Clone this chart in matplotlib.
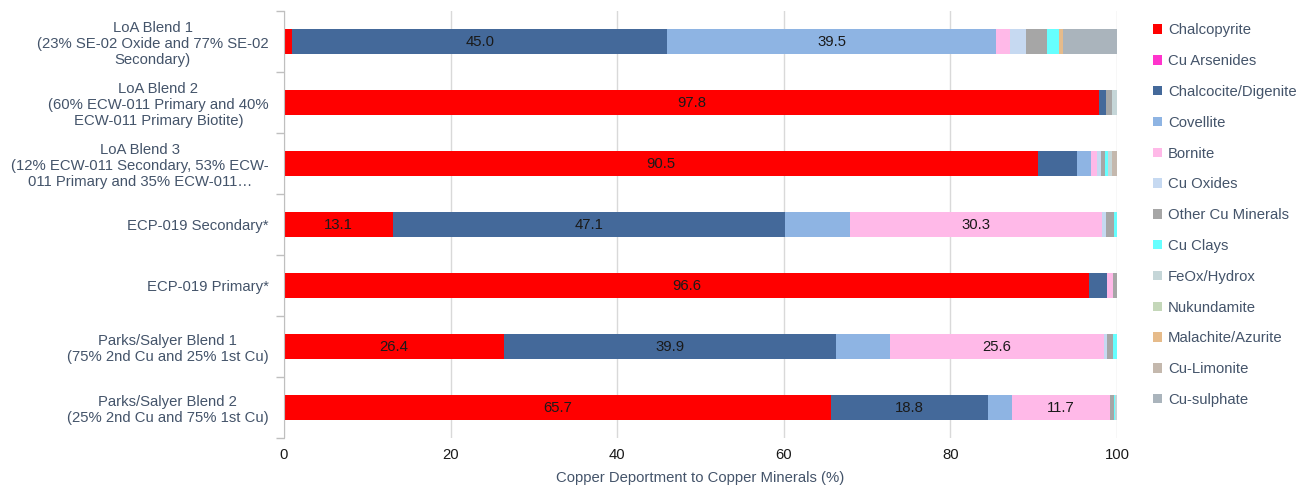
import matplotlib
matplotlib.use("Agg")
import matplotlib.pyplot as plt
import numpy as np

plt.rcParams['font.family'] = ['Liberation Sans', 'DejaVu Sans']

categories = [
    "LoA Blend 1\n(23% SE-02 Oxide and 77% SE-02\nSecondary)",
    "LoA Blend 2\n(60% ECW-011 Primary and 40%\nECW-011 Primary Biotite)",
    "LoA Blend 3\n(12% ECW-011 Secondary, 53% ECW-\n011 Primary and 35% ECW-011\u2026",
    "ECP-019 Secondary*",
    "ECP-019 Primary*",
    "Parks/Salyer Blend 1\n(75% 2nd Cu and 25% 1st Cu)",
    "Parks/Salyer Blend 2\n(25% 2nd Cu and 75% 1st Cu)",
]

minerals = ["Chalcopyrite", "Cu Arsenides", "Chalcocite/Digenite", "Covellite",
            "Bornite", "Cu Oxides", "Other Cu Minerals", "Cu Clays",
            "FeOx/Hydrox", "Nukundamite", "Malachite/Azurite", "Cu-Limonite",
            "Cu-sulphate"]

colors = ["#ff0000", "#ff33cc", "#44699a", "#8eb4e3", "#ffb9e8", "#c6d9f1",
          "#a6a6a6", "#66ffff", "#c5d6d8", "#c4d7b9", "#e6bb8a", "#c4b8ad",
          "#aab4bc"]

# Deportment (%) per mineral, one value per category (top to bottom)
chalcopyrite = [1.0, 97.8, 90.5, 13.1, 96.6, 26.4, 65.7]
cu_arsenides = [0.0, 0.0, 0.0, 0.0, 0.0, 0.0, 0.0]
chalcocite   = [45.0, 0.9, 4.7, 47.1, 2.2, 39.9, 18.8]
covellite    = [39.5, 0.0, 1.7, 7.7, 0.0, 6.5, 2.9]
bornite      = [1.6, 0.0, 0.7, 30.3, 0.7, 25.6, 11.7]
cu_oxides    = [2.0, 0.0, 0.5, 0.5, 0.0, 0.4, 0.0]
other_cu     = [2.5, 0.7, 0.5, 0.9, 0.5, 0.7, 0.5]
cu_clays     = [1.4, 0.0, 0.3, 0.4, 0.0, 0.5, 0.2]
feox         = [0.0, 0.6, 0.5, 0.0, 0.0, 0.0, 0.2]
nukundamite  = [0.0, 0.0, 0.0, 0.0, 0.0, 0.0, 0.0]
malachite    = [0.5, 0.0, 0.0, 0.0, 0.0, 0.0, 0.0]
cu_limonite  = [0.0, 0.0, 0.6, 0.0, 0.0, 0.0, 0.0]
cu_sulphate  = [6.5, 0.0, 0.0, 0.0, 0.0, 0.0, 0.0]

series = [chalcopyrite, cu_arsenides, chalcocite, covellite, bornite, cu_oxides,
          other_cu, cu_clays, feox, nukundamite, malachite, cu_limonite,
          cu_sulphate]

text_color = "#44546a"
fs = 10.7

fig = plt.figure(figsize=(13.09, 4.94), dpi=100)
ax = fig.add_axes([284 / 1309, 1 - 438 / 494, (1117 - 284) / 1309, (438 - 11) / 494])

y = np.arange(len(categories))
left = np.zeros(len(categories))
for name, vals, col in zip(minerals, series, colors):
    vals = np.array(vals, dtype=float)
    bars = ax.barh(y, vals, left=left, height=0.4, color=col, label=name,
                   edgecolor='none', zorder=3)
    for b, v in zip(bars, vals):
        if v >= 10:
            ax.text(b.get_x() + b.get_width() / 2, b.get_y() + b.get_height() / 2,
                    f"{v:.1f}", ha='center', va='center', fontsize=fs,
                    color='#1a1a1a', zorder=4)
    left += vals

ax.set_xlim(0, 100)
ax.set_ylim(len(categories) - 0.5, -0.5)
ax.set_xticks([0, 20, 40, 60, 80, 100])
ax.tick_params(axis='x', length=0, labelsize=fs, labelcolor='#1a1a1a', pad=7)
ax.set_yticks(y)
ax.set_yticklabels(categories, fontsize=fs, color=text_color,
                   multialignment='center', linespacing=1.2)
ax.tick_params(axis='y', which='major', length=0, pad=11)
ax.set_yticks(np.arange(-0.5, len(categories), 1.0), minor=True)
ax.tick_params(axis='y', which='minor', length=6, color='#bfbfbf', width=1)

ax.grid(axis='x', color='#d9d9d9', linewidth=1, zorder=0)
for s in ['top', 'right', 'bottom']:
    ax.spines[s].set_visible(False)
ax.spines['left'].set_color('#bfbfbf')
ax.spines['left'].set_zorder(5)

ax.set_xlabel("Copper Deportment to Copper Minerals (%)", fontsize=fs,
              color=text_color, labelpad=7)

leg = ax.legend(loc='upper left', bbox_to_anchor=(1140 / 1309, 1 - 10 / 494),
                bbox_transform=fig.transFigure, frameon=False, fontsize=fs,
                handlelength=0.6, handleheight=0.6, handletextpad=0.4,
                labelspacing=1.13)
for t in leg.get_texts():
    t.set_color(text_color)

fig.savefig("out.png", dpi=100)
